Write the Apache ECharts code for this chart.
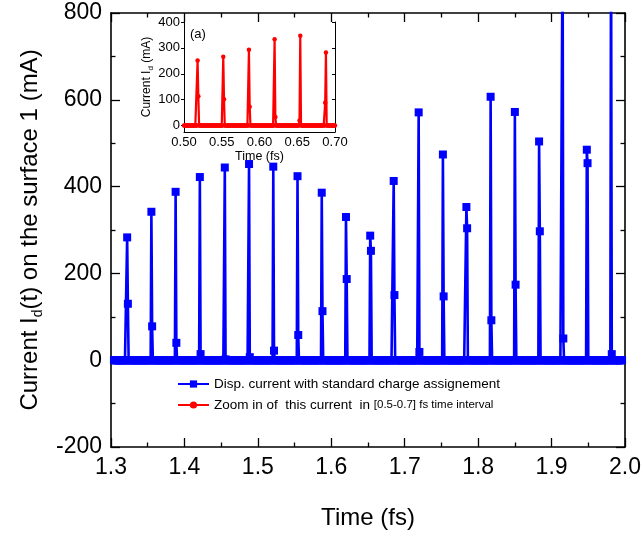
<!DOCTYPE html>
<html><head><meta charset="utf-8">
<script src="https://cdn.jsdelivr.net/npm/echarts@6/dist/echarts.min.js"></script>
<style>html,body{margin:0;padding:0;background:#fff}#c{width:644px;height:537px}</style>
</head><body><div id="c"></div>
<script>
// ---- data ----
// main panel: displacement current, sampled every 0.001 fs, zero between spikes
const mainTimeStart = 1.304, mainTimeEnd = 1.996, sampleStep = 0.001, baselineValue = 0;
const mainPeakTimes   = [1.322, 1.355, 1.388, 1.421, 1.455, 1.488, 1.521, 1.554, 1.587, 1.620, 1.653, 1.685, 1.719, 1.752, 1.784, 1.817, 1.850, 1.883, 1.915, 1.948, 1.981];
const mainPeakValues  = [283, 342, 388, 422, 444, 452, 446, 424, 386, 330, 287, 413, 571, 474, 353, 607, 572, 504, 980, 485, 1020];
const mainSecondValues= [130, 78, 40, 14, 2, 7, 22, 58, 113, 187, 252, 150, 19, 147, 304, 92, 174, 297, 50, 454, 14];
// inset: zoom of the same current in [0.5-0.7] fs
const insetTimeStart = 0.5, insetTimeEnd = 0.7;
const insetPeakTimes   = [0.518, 0.552, 0.586, 0.620, 0.654, 0.688];
const insetPeakValues  = [251, 266, 293, 333, 347, 282];
const insetSecondSide  = [1, 1, 1, 1, -1, -1];
const insetSecondValues= [113, 102, 73, 33, 19, 88];
// axis ticks
const mainXTicks = [1.3, 1.4, 1.5, 1.6, 1.7, 1.8, 1.9, 2.0];
const mainYTicks = [-200, 0, 200, 400, 600, 800];
const insetXTicks = [0.50, 0.55, 0.60, 0.65, 0.70];
const insetYTicks = [0, 100, 200, 300, 400];

const blueName = 'Disp. current with standard charge assignement';
const redName = 'Zoom in of  this current  in [0.5-0.7] fs time interval';

function buildSeries(t0, t1, peaks, vals, seconds, sides) {
  const n = Math.round((t1 - t0) / sampleStep);
  const v = new Array(n + 1).fill(baselineValue);
  peaks.forEach((tp, k) => {
    const i = Math.round((tp - t0) / sampleStep);
    v[i] = vals[k];
    const j = i + (sides ? sides[k] : 1);
    if (j >= 0 && j <= n) v[j] = seconds[k];
  });
  return v.map((y, i) => [+(t0 + i * sampleStep).toFixed(4), y]);
}
const mainData = buildSeries(mainTimeStart, mainTimeEnd, mainPeakTimes, mainPeakValues, mainSecondValues, null);
const insetData = buildSeries(insetTimeStart, insetTimeEnd, insetPeakTimes, insetPeakValues, insetSecondValues, insetSecondSide);

const FONT = 'Liberation Sans, Arial, sans-serif';
const axisLine = {show: true, onZero: false, lineStyle: {color: '#000', width: 1.6}};

const chart = echarts.init(document.getElementById('c'), null, {renderer: 'canvas'});
chart.setOption({
  animation: false,
  backgroundColor: '#fff',
  textStyle: {fontFamily: FONT},
  grid: [
    {left: 111, right: 19, top: 13, bottom: 90},
    {left: 184, right: 309, top: 22, bottom: 405}
  ],
  legend: {
    orient: 'vertical', left: 172, top: 372, itemWidth: 31, itemHeight: 9, itemGap: 7,
    data: [blueName, redName],
    textStyle: {fontFamily: FONT, fontSize: 13.5, color: '#000',
      rich: {a: {fontFamily: FONT, fontSize: 13.5, color: '#000'}, b: {fontFamily: FONT, fontSize: 11.5, color: '#000'}}},
    formatter: function (name) {
      if (name === redName) return '{a|Zoom in of  this current  in }{b|[0.5-0.7] fs time interval}';
      return '{a|' + name + '}';
    }
  },
  graphic: [{type: 'text', left: 190, top: 28, style: {text: '(a)', font: '13px ' + FONT, fill: '#000'}}],
  xAxis: [
    {gridIndex: 0, type: 'value', min: mainXTicks[0], max: mainXTicks[mainXTicks.length - 1], interval: 0.1,
     position: 'bottom', axisLine: axisLine,
     axisTick: {inside: true, length: 9, lineStyle: {color: '#000', width: 1.3}},
     minorTick: {show: true, splitNumber: 2, length: 4.5, lineStyle: {color: '#000', width: 1.3}},
     splitLine: {show: false},
     axisLabel: {fontSize: 23, color: '#000', margin: 9, fontFamily: FONT, formatter: v => v.toFixed(1)},
     name: 'Time (fs)', nameLocation: 'middle', nameGap: 59,
     nameTextStyle: {fontSize: 24, color: '#000', fontFamily: FONT}},
    {gridIndex: 1, type: 'value', min: insetXTicks[0], max: insetXTicks[insetXTicks.length - 1], interval: 0.05,
     position: 'bottom', axisLine: {show: true, onZero: false, lineStyle: {color: '#000', width: 1}},
     axisTick: {show: false}, splitLine: {show: false},
     axisLabel: {fontSize: 13, color: '#000', margin: 4, fontFamily: FONT, formatter: v => v.toFixed(2)},
     name: 'Time (fs)', nameLocation: 'middle', nameGap: 15,
     nameTextStyle: {fontSize: 12.5, color: '#000', fontFamily: FONT}},
    {gridIndex: 0, type: 'value', min: 1.3, max: 2.0, interval: 0.1, position: 'top', axisLine: axisLine,
     axisTick: {inside: true, length: 9, lineStyle: {color: '#000', width: 1.3}},
     minorTick: {show: true, splitNumber: 2, length: 4.5, lineStyle: {color: '#000', width: 1.3}},
     splitLine: {show: false}, axisLabel: {show: false}}
  ],
  yAxis: [
    {gridIndex: 0, type: 'value', min: mainYTicks[0], max: mainYTicks[mainYTicks.length - 1], interval: 200,
     position: 'left', axisLine: axisLine,
     axisTick: {inside: true, length: 9, lineStyle: {color: '#000', width: 1.3}},
     minorTick: {show: true, splitNumber: 2, length: 4.5, lineStyle: {color: '#000', width: 1.3}},
     splitLine: {show: false},
     axisLabel: {fontSize: 23, color: '#000', margin: 9, fontFamily: FONT},
     name: 'Current I{s|d}(t) on the surface 1 (mA)', nameLocation: 'middle', nameGap: 63,
     nameTextStyle: {fontSize: 24, color: '#000', fontFamily: FONT,
       rich: {s: {fontSize: 14, fontFamily: FONT, color: '#000', verticalAlign: 'bottom', lineHeight: 30}}}},
    {gridIndex: 1, type: 'value', min: -25, max: 400, position: 'left',
     axisLine: {show: true, onZero: false, lineStyle: {color: '#000', width: 1}},
     axisTick: {show: true, inside: false, length: 3, customValues: insetYTicks, lineStyle: {color: '#000'}},
     splitLine: {show: false},
     axisLabel: {fontSize: 13, color: '#000', margin: 4, fontFamily: FONT, customValues: insetYTicks},
     name: 'Current I{s|d} (mA)', nameLocation: 'middle', nameGap: 19,
     nameTextStyle: {fontSize: 12, color: '#000', fontFamily: FONT,
       rich: {s: {fontSize: 8, fontFamily: FONT, color: '#000', verticalAlign: 'bottom', lineHeight: 15}}}},
    {gridIndex: 0, type: 'value', min: -200, max: 800, interval: 200, position: 'right', axisLine: axisLine,
     axisTick: {inside: true, length: 9, lineStyle: {color: '#000', width: 1.3}},
     minorTick: {show: true, splitNumber: 2, length: 4.5, lineStyle: {color: '#000', width: 1.3}},
     splitLine: {show: false}, axisLabel: {show: false}},
    {gridIndex: 1, type: 'value', min: -25, max: 400, position: 'right',
     axisLine: {show: true, onZero: false, lineStyle: {color: '#000', width: 1}},
     axisTick: {show: true, inside: true, length: 3, customValues: insetYTicks, lineStyle: {color: '#000'}},
     splitLine: {show: false}, axisLabel: {show: false}}
  ],
  series: [
    {name: blueName, type: 'line', xAxisIndex: 0, yAxisIndex: 0, data: mainData,
     symbol: 'rect', symbolSize: 8, showSymbol: true, showAllSymbol: true,
     itemStyle: {color: '#0000ff'}, lineStyle: {color: '#0000ff', width: 2.6}, clip: true, z: 2},
    {name: redName, type: 'line', xAxisIndex: 1, yAxisIndex: 1, data: insetData,
     symbol: 'circle', symbolSize: 4.5, showSymbol: true, showAllSymbol: true,
     itemStyle: {color: '#ff0000'}, lineStyle: {color: '#ff0000', width: 2.2}, clip: true, z: 3}
  ]
});
</script></body></html>
